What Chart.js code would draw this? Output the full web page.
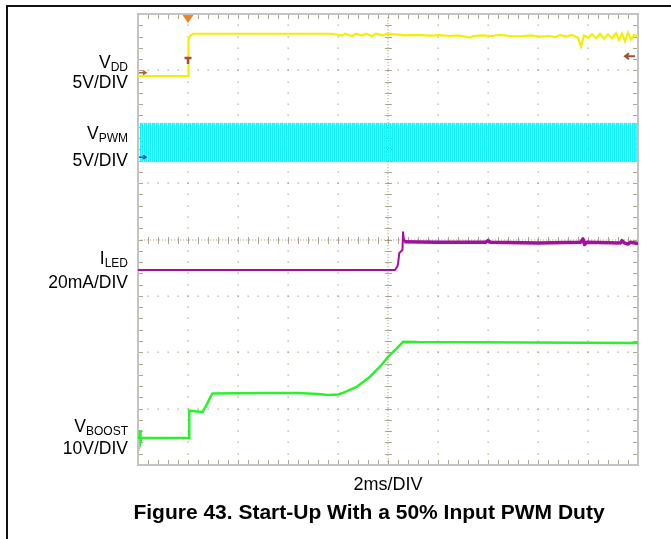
<!DOCTYPE html>
<html>
<head>
<meta charset="utf-8">
<script src="https://cdn.jsdelivr.net/npm/chart.js@4.4.1/dist/chart.umd.min.js"></script>
<style>
  html, body { margin: 0; padding: 0; background: #fff; }
  #page { position: relative; width: 671px; height: 539px; overflow: hidden; font-family: "Liberation Sans", Arial, sans-serif; color: #000; }
  #frameTop { position: absolute; left: 7px; top: 5px; width: 664px; height: 2px; background: #111; }
  #frameLeft { position: absolute; left: 6px; top: 5px; width: 2px; height: 534px; background: #111; }
  #scope { position: absolute; left: 0; top: 0; }
  .lbl { position: absolute; right: 543px; font-size: 17.5px; line-height: 20px; text-align: right; white-space: nowrap; }
  .lbl .s { font-size: 12px; position: relative; top: 3px; }
  #xlabel { position: absolute; left: 288px; width: 200px; top: 474px; text-align: center; font-size: 18px; line-height: 20px; }
  #title { position: absolute; left: 69px; width: 600px; top: 500px; text-align: center; font-size: 21px; font-weight: bold; line-height: 24px; }
</style>
</head>
<body>
<div id="page">
  <div id="frameTop"></div>
  <div id="frameLeft"></div>
  <canvas id="scope" width="671" height="539"></canvas>

  <div class="lbl" style="top:52px">V<span class="s">DD</span></div>
  <div class="lbl" style="top:72px">5V/DIV</div>
  <div class="lbl" style="top:123px">V<span class="s">PWM</span></div>
  <div class="lbl" style="top:150px">5V/DIV</div>
  <div class="lbl" style="top:248px">I<span class="s">LED</span></div>
  <div class="lbl" style="top:272px">20mA/DIV</div>
  <div class="lbl" style="top:416px">V<span class="s">BOOST</span></div>
  <div class="lbl" style="top:438px">10V/DIV</div>

  <div id="xlabel">2ms/DIV</div>
  <div id="title">Figure 43. Start-Up With a 50% Input PWM Duty</div>
</div>

<script>
// time in ms (2 ms/div, 10 div), level in screen divisions (0 = bottom graticule, 8 = top)
const timeMin = 0;
const timeMax = 20;
const triggerTime = 2.0;

const vddTime = [0, 2.0, 2.02, 2.08, 2.2, 7.68, 8.16, 8.28, 8.56, 8.72, 8.96, 9.12, 9.36, 9.52, 9.76, 10.0,
  10.28, 10.68, 11.2, 11.68, 12.08, 12.48, 12.8, 13.08, 13.28, 13.4, 13.76, 14.16, 14.48, 14.88, 15.28,
  15.68, 16.08, 16.4, 16.72, 16.88, 17.12, 17.36, 17.6, 17.72, 17.84, 18.0, 18.16, 18.32, 18.48, 18.64,
  18.8, 18.96, 19.12, 19.24, 19.36, 19.48, 19.6, 19.72, 19.84, 20.0];
const vddLevel = [6.90, 6.90, 7.55, 7.61, 7.65, 7.65, 7.62, 7.65, 7.61, 7.65, 7.62, 7.65, 7.61, 7.65, 7.62, 7.65,
  7.64, 7.62, 7.63, 7.615, 7.625, 7.61, 7.62, 7.60, 7.58, 7.61, 7.62, 7.61, 7.63, 7.61, 7.605,
  7.62, 7.60, 7.61, 7.59, 7.63, 7.60, 7.63, 7.58, 7.42, 7.62, 7.58, 7.64, 7.57, 7.65, 7.56,
  7.64, 7.57, 7.66, 7.54, 7.65, 7.52, 7.67, 7.55, 7.63, 7.60];

const pwmPulseTime = [0.14, 0.30, 0.46, 0.62, 0.78, 0.94, 1.10, 1.26, 1.42, 1.58, 1.74, 1.90, 2.06, 2.22,
  2.38, 2.54, 2.70, 2.86, 3.02, 3.18, 3.34, 3.50, 3.66, 3.82, 3.98, 4.14, 4.30, 4.46, 4.62, 4.78, 4.94,
  5.10, 5.26, 5.42, 5.58, 5.74, 5.90, 6.06, 6.22, 6.38, 6.54, 6.70, 6.86, 7.02, 7.18, 7.34, 7.50, 7.66,
  7.82, 7.98, 8.14, 8.30, 8.46, 8.62, 8.78, 8.94, 9.10, 9.26, 9.42, 9.58, 9.74, 9.90, 10.06, 10.22,
  10.38, 10.54, 10.70, 10.86, 11.02, 11.18, 11.34, 11.50, 11.66, 11.82, 11.98, 12.14, 12.30, 12.46,
  12.62, 12.78, 12.94, 13.10, 13.26, 13.42, 13.58, 13.74, 13.90, 14.06, 14.22, 14.38, 14.54, 14.70,
  14.86, 15.02, 15.18, 15.34, 15.50, 15.66, 15.82, 15.98, 16.14, 16.30, 16.46, 16.62, 16.78, 16.94,
  17.10, 17.26, 17.42, 17.58, 17.74, 17.90, 18.06, 18.22, 18.38, 18.54, 18.70, 18.86, 19.02, 19.18,
  19.34, 19.50, 19.66, 19.82, 19.96];
const pwmLow = 5.37;
const pwmHigh = 6.07;

const iledTime = [0, 10.28, 10.37, 10.40, 10.45, 10.55, 10.58, 10.60, 10.65, 12.0, 13.9, 14.0, 14.1,
  16.0, 17.7, 17.8, 17.86, 17.95, 19.3, 19.36, 19.45, 19.6, 19.7, 20.0];
const iledLevel = [3.46, 3.46, 3.52, 3.56, 3.76, 3.80, 3.82, 4.13, 3.96, 3.95, 3.95, 3.98, 3.95,
  3.94, 3.95, 4.01, 3.91, 3.95, 3.94, 3.98, 3.94, 3.92, 3.95, 3.93];

const boostTime = [0, 0.06, 0.08, 0.10, 0.14, 2.04, 2.05, 2.58, 2.76, 2.88, 2.98, 5.0, 6.4, 7.2, 7.6, 8.0,
  8.2, 8.74, 9.28, 9.68, 10.01, 10.35, 10.61, 11.2, 20.0];
const boostLevel = [0.48, 0.48, 0.62, 0.41, 0.48, 0.484, 0.963, 0.94, 1.08, 1.19, 1.27, 1.277, 1.277, 1.26,
  1.24, 1.25, 1.28, 1.384, 1.566, 1.744, 1.921, 2.07, 2.187, 2.18, 2.165];

const pts = (xs, ys) => xs.map((t, i) => ({ x: t, y: ys[i] }));

const gridColor = 'rgba(150, 138, 105, 0.75)';

const scopeGrid = {
    id: 'scopeGrid',
    beforeDatasetsDraw(chart) {
        const { ctx, chartArea: a, scales: { x, y } } = chart;
        ctx.save();
        ctx.fillStyle = gridColor;

        // dotted graticule lines
        for (let i = 1; i < 10; i++) {
            if (i === 5) continue;
            const px = Math.round(x.getPixelForValue(i * 2));
            for (let j = 1; j < 40; j++) {
                ctx.fillRect(px - 0.5, Math.round(y.getPixelForValue(j * 0.2)) - 0.5, 1.3, 1.3);
            }
        }
        for (let j = 1; j < 8; j++) {
            if (j === 4) continue;
            const py = Math.round(y.getPixelForValue(j));
            for (let i = 1; i < 50; i++) {
                ctx.fillRect(Math.round(x.getPixelForValue(i * 0.4)) - 0.5, py - 0.5, 1.3, 1.3);
            }
        }

        // centre cross with fine ticks
        const cx = Math.round(x.getPixelForValue(10));
        const cy = Math.round(y.getPixelForValue(4));
        for (let p = a.left; p < a.right; p += 3) ctx.fillRect(p, cy - 0.5, 1.2, 1);
        for (let p = a.top; p < a.bottom; p += 3) ctx.fillRect(cx - 0.5, p, 1, 1.2);
        ctx.strokeStyle = gridColor;
        ctx.lineWidth = 1;
        ctx.beginPath();
        for (let i = 1; i < 50; i++) {
            const px = Math.round(x.getPixelForValue(i * 0.4)) + 0.5;
            ctx.moveTo(px, cy - 3); ctx.lineTo(px, cy + 4);
            ctx.moveTo(px, a.top); ctx.lineTo(px, a.top + 5);
            ctx.moveTo(px, a.bottom); ctx.lineTo(px, a.bottom - 5);
        }
        for (let j = 1; j < 40; j++) {
            const py = Math.round(y.getPixelForValue(j * 0.2)) + 0.5;
            ctx.moveTo(cx - 3, py); ctx.lineTo(cx + 4, py);
            ctx.moveTo(a.left, py); ctx.lineTo(a.left + 5, py);
            ctx.moveTo(a.right, py); ctx.lineTo(a.right - 5, py);
        }
        ctx.stroke();

        ctx.strokeStyle = '#c4c4c4';
        ctx.lineWidth = 2;
        ctx.strokeRect(a.left, a.top, a.width, a.height);
        ctx.restore();
    },
    afterDatasetsDraw(chart) {
        const { ctx, chartArea: a, scales: { x, y } } = chart;
        const tx = x.getPixelForValue(triggerTime);
        ctx.save();
        // trigger position
        ctx.fillStyle = '#f0821e';
        ctx.beginPath();
        ctx.moveTo(tx - 5.5, a.top + 1);
        ctx.lineTo(tx + 5.5, a.top + 1);
        ctx.lineTo(tx, a.top + 9);
        ctx.closePath();
        ctx.fill();
        // trigger level
        const ty = y.getPixelForValue(7.22);
        ctx.strokeStyle = '#a0522d';
        ctx.lineWidth = 2.5;
        ctx.beginPath();
        ctx.moveTo(tx - 3.5, ty); ctx.lineTo(tx + 3.5, ty);
        ctx.moveTo(tx, ty); ctx.lineTo(tx, ty + 6);
        ctx.stroke();
        // level arrow on the right
        const ay = y.getPixelForValue(7.25);
        ctx.lineWidth = 2;
        ctx.beginPath();
        ctx.moveTo(a.right - 3, ay); ctx.lineTo(a.right - 13, ay);
        ctx.moveTo(a.right - 9, ay - 3); ctx.lineTo(a.right - 13, ay); ctx.lineTo(a.right - 9, ay + 3);
        ctx.stroke();
        // channel ground markers
        const marker = (lvl, col) => {
            const my = y.getPixelForValue(lvl);
            ctx.strokeStyle = col;
            ctx.lineWidth = 1.5;
            ctx.beginPath();
            ctx.moveTo(a.left + 1, my); ctx.lineTo(a.left + 8, my);
            ctx.moveTo(a.left + 5, my - 2); ctx.lineTo(a.left + 8, my); ctx.lineTo(a.left + 5, my + 2);
            ctx.stroke();
        };
        marker(6.96, '#b0602a');
        marker(5.46, '#2b45c8');
        ctx.restore();
    }
};

new Chart(document.getElementById('scope'), {
    type: 'line',
    data: {
        datasets: [
            {
                type: 'bar',
                label: 'VPWM',
                data: pwmPulseTime.map(t => ({ x: t, y: [pwmLow, pwmHigh] })),
                backgroundColor: '#4ef7fb',
                borderColor: '#00eef6',
                borderWidth: { left: 1, right: 1, top: 0, bottom: 0 },
                borderSkipped: false,
                barThickness: 3,
                order: 4
            },
            {
                label: 'VDD',
                data: pts(vddTime, vddLevel),
                borderColor: '#f2f000',
                borderWidth: 2.2,
                pointRadius: 0,
                order: 3
            },
            {
                label: 'ILED',
                data: pts(iledTime, iledLevel),
                borderColor: '#a3109f',
                borderWidth: 2,
                borderJoinStyle: 'round',
                pointRadius: 0,
                segment: {
                    borderWidth: c => c.p0.parsed.x >= 10.65 ? 3.5 : 2
                },
                order: 2
            },
            {
                label: 'VBOOST',
                data: pts(boostTime, boostLevel),
                borderColor: '#2cf02c',
                borderWidth: 2.5,
                pointRadius: 0,
                order: 1
            }
        ]
    },
    options: {
        responsive: false,
        animation: false,
        events: [],
        layout: { padding: { left: 138, right: 33, top: 14, bottom: 74 } },
        plugins: { legend: { display: false }, tooltip: { enabled: false } },
        scales: {
            x: { type: 'linear', min: timeMin, max: timeMax, offset: false, display: false },
            y: { type: 'linear', min: 0, max: 8, display: false }
        }
    },
    plugins: [scopeGrid]
});
</script>
</body>
</html>
